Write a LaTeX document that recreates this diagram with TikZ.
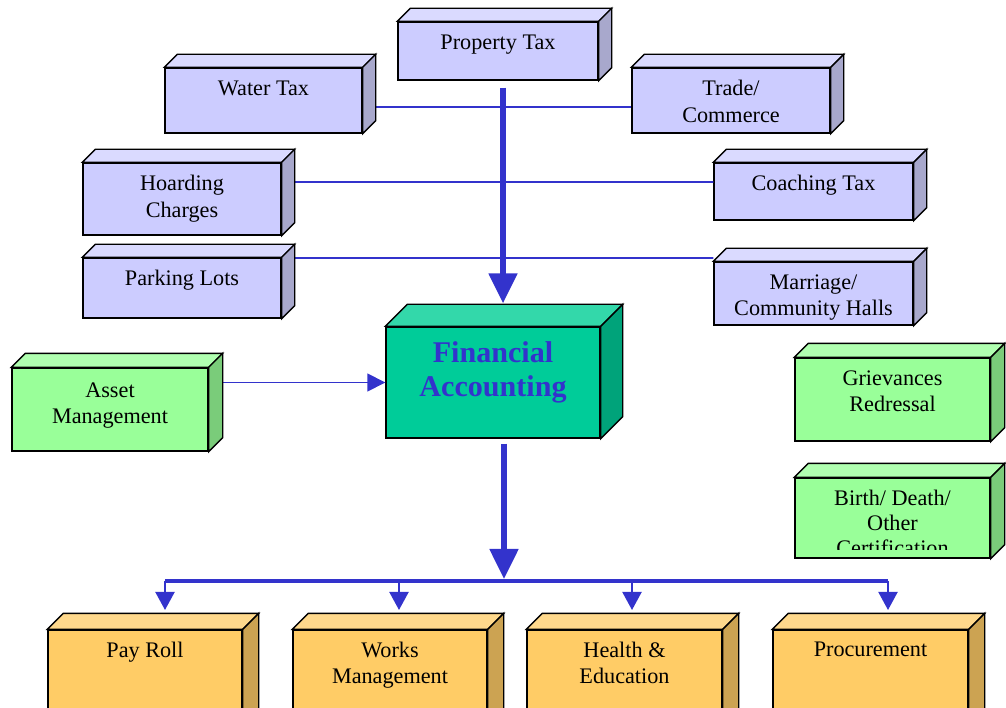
\documentclass[tikz,border=0pt]{standalone}
\usepackage{fontspec}
\setmainfont{Liberation Serif}
\usetikzlibrary{fit,arrows.meta}

\definecolor{lilac}{HTML}{CCCCFF}
\definecolor{lilactop}{HTML}{DADAFF}
\definecolor{lilacside}{HTML}{A8A8CC}
\definecolor{mint}{HTML}{99FF99}
\definecolor{minttop}{HTML}{B0FFB0}
\definecolor{mintside}{HTML}{7ACC7A}
\definecolor{core}{HTML}{00CC99}
\definecolor{coretop}{HTML}{33D8AA}
\definecolor{coreside}{HTML}{00A37A}
\definecolor{peach}{HTML}{FFCC66}
\definecolor{peachtop}{HTML}{FFD98C}
\definecolor{peachside}{HTML}{CCA352}
\definecolor{wire}{HTML}{3333CC}

\begin{document}
\begin{tikzpicture}[x=0.025cm,y=-0.025cm]
	\tikzstyle{face}=[draw=black,line width=1pt,inner sep=0pt]
	\tikzstyle{tax}=[face,fill=lilac]
	\tikzstyle{svc}=[face,fill=mint]
	\tikzstyle{fin}=[face,fill=core]
	\tikzstyle{dept}=[face,fill=peach]
	\tikzstyle{shade}=[draw=black,line width=1pt]
	\tikzstyle{txt}=[anchor=north,inner sep=0pt,align=center,
	font=\fontsize{15.8}{18.5}\selectfont]
	\tikzstyle{link}=[draw=wire,line width=1.1pt]
	\tikzstyle{feed}=[draw=wire,line width=1.1pt,-{Triangle[width=0.45cm,length=0.45cm]}]
	\tikzstyle{trunk}=[draw=wire,line width=3.6pt,-{Triangle[width=0.7cm,length=0.75cm]}]
	\tikzstyle{bus}=[draw=wire,line width=3pt]
	\tikzstyle{drop}=[draw=wire,line width=1.5pt,-{Triangle[width=0.475cm,length=0.45cm]}]

\useasboundingbox (0,0) rectangle (1006,708);
\clip (0,0) rectangle (1006,708);

% revenue boxes
\node[tax,fit={(398,22) (598,80)}] (ptax) {};
\node[tax,fit={(165,68) (362,133)}] (water) {};
\node[tax,fit={(632,68) (830,133)}] (trade) {};
\node[tax,fit={(83,163) (281,235)}] (hoard) {};
\node[tax,fit={(714,163) (913,220)}] (coach) {};
\node[tax,fit={(83,258) (281,318)}] (park) {};
\node[tax,fit={(714,262) (913,325)}] (marry) {};

% centre and side boxes
\node[fin,fit={(386,327) (600,438)}] (fa) {};
\node[svc,fit={(12,368) (208,451)}] (asset) {};
\node[svc,fit={(795,358) (990,441)}] (griev) {};
\node[svc,fit={(795,478) (990,558)}] (birth) {};

% departments
\node[dept,fit={(48,630) (242,740)}] (payroll) {};
\node[dept,fit={(293,630) (487,740)}] (works) {};
\node[dept,fit={(527,630) (722,740)}] (health) {};
\node[dept,fit={(773,630) (968,740)}] (procure) {};

% texts
\node[txt] (ptax-t) at ([yshift=-0.325cm]ptax.north) {Property Tax};
\node[txt] (water-t) at ([yshift=-0.325cm]water.north) {Water Tax};
\node[txt] (trade-t) at ([yshift=-0.325cm]trade.north) {Trade/\\Commerce};
\node[txt] (hoard-t) at ([yshift=-0.325cm]hoard.north) {Hoarding\\Charges};
\node[txt] (coach-t) at ([yshift=-0.325cm]coach.north) {Coaching Tax};
\node[txt] (park-t) at ([yshift=-0.325cm]park.north) {Parking Lots};
\node[txt] (marry-t) at ([yshift=-0.325cm]marry.north) {Marriage/\\Community Halls};
\node[txt,text=wire,font=\fontsize{21.4}{24.5}\selectfont\bfseries] (fa-t)
	at ([yshift=-0.375cm]fa.north) {Financial\\Accounting};
\node[txt] (asset-t) at ([yshift=-0.375cm]asset.north) {Asset\\Management};
\node[txt] (griev-t) at ([yshift=-0.325cm]griev.north) {Grievances\\Redressal};
\begin{scope}
\clip (795,478) rectangle (990,549);
\node[txt,font=\fontsize{15.8}{18}\selectfont] (birth-t) at ([yshift=-0.3cm]birth.north)
	{Birth/ Death/\\Other\\Certification};
\end{scope}
\node[txt] (payroll-t) at ([yshift=-0.3cm]payroll.north) {Pay Roll};
\node[txt] (works-t) at ([yshift=-0.3cm]works.north) {Works\\Management};
\node[txt] (health-t) at ([yshift=-0.3cm]health.north) {Health \&\\Education};
\node[txt] (procure-t) at ([yshift=-0.3cm]procure.north) {Procurement};

% connectors
\draw[link] ([yshift=-0.1625cm]water.east) -- ([yshift=-0.1625cm]trade.west);
\draw[link] ([yshift=0.425cm]hoard.east) -- ([yshift=0.2375cm]coach.west);
\draw[link] ([yshift=0.75cm]park.east) -- ([yshift=0.8875cm]marry.west);
\draw[feed] (asset.east |- fa.west) -- (fa.west);
\draw[trunk] ([shift={(5,7)}]ptax.south) -- ([shift={(10,-23)}]fa.north);
\coordinate (hub) at (504,581);
\draw[trunk] ([shift={(11,5)}]fa.south) -- ([yshift=0.05cm]hub);
\coordinate (b1) at (165,581);
\coordinate (b2) at (399,581);
\coordinate (b3) at (632,581);
\coordinate (b4) at (888,581);
\draw[bus] (b1) -- (b4);
\foreach \b in {b1,b2,b3,b4}
	\draw[drop] (\b) -- ++(0,29);

% 3d faces
\foreach \n in {ptax,water,trade,hoard,coach,park,marry}{
	\filldraw[shade,fill=lilactop] (\n.north west) -- ++(13,-13) -- ([shift={(13,-13)}]\n.north east) -- (\n.north east) -- cycle;
	\filldraw[shade,fill=lilacside] (\n.north east) -- ++(13,-13) -- ([shift={(13,-13)}]\n.south east) -- (\n.south east) -- cycle;
}
\foreach \n in {asset,griev,birth}{
	\filldraw[shade,fill=minttop] (\n.north west) -- ++(14,-14) -- ([shift={(14,-14)}]\n.north east) -- (\n.north east) -- cycle;
	\filldraw[shade,fill=mintside] (\n.north east) -- ++(14,-14) -- ([shift={(14,-14)}]\n.south east) -- (\n.south east) -- cycle;
}
\foreach \n in {fa}{
	\filldraw[shade,fill=coretop] (\n.north west) -- ++(22,-22) -- ([shift={(22,-22)}]\n.north east) -- (\n.north east) -- cycle;
	\filldraw[shade,fill=coreside] (\n.north east) -- ++(22,-22) -- ([shift={(22,-22)}]\n.south east) -- (\n.south east) -- cycle;
}
\foreach \n in {payroll,works,health,procure}{
	\filldraw[shade,fill=peachtop] (\n.north west) -- ++(16,-16) -- ([shift={(16,-16)}]\n.north east) -- (\n.north east) -- cycle;
	\filldraw[shade,fill=peachside] (\n.north east) -- ++(16,-16) -- ([shift={(16,-16)}]\n.south east) -- (\n.south east) -- cycle;
}

\end{tikzpicture}
\end{document}
